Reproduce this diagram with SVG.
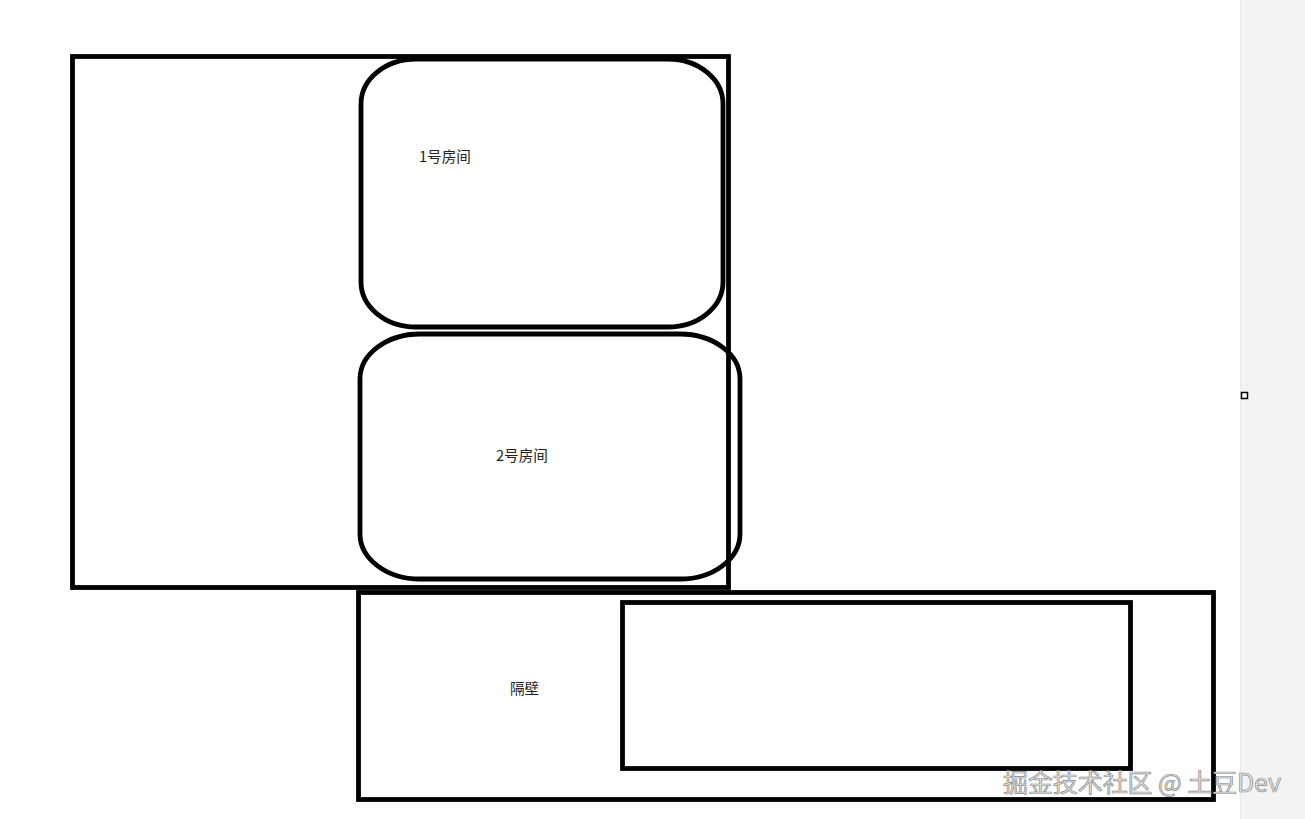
<svg xmlns="http://www.w3.org/2000/svg" width="1305" height="819" viewBox="0 0 1305 819">
<style>
.ln{fill:none;stroke:#000;stroke-width:4.8}
.lbl{font-family:"Noto Sans CJK SC","Noto Sans",sans-serif;font-size:14.6px;fill:#222}
.wm{font-family:"Noto Sans CJK SC","Noto Sans",sans-serif;font-size:25px;fill:#e4e4e4;stroke:#8a8a8a;stroke-width:0.7}
</style>
<rect x="0" y="0" width="1305" height="819" fill="#ffffff"/>
<rect x="1240" y="0" width="65" height="819" fill="#f3f3f3"/>
<line x1="1240.5" y1="0" x2="1240.5" y2="819" stroke="#e8e8e8" stroke-width="1"/>
<rect x="1241.5" y="392.5" width="6" height="6" fill="#fff" stroke="#000" stroke-width="1.5"/>
<g id="outer"><rect class="ln" x="72.5" y="56.5" width="656" height="531"/></g>
<g id="room1"><rect class="ln" x="361" y="59" width="362" height="268" rx="55" ry="45"/><text class="lbl" x="419" y="162">1号房间</text></g>
<g id="room2"><rect class="ln" x="360" y="334" width="380" height="245" rx="60" ry="45"/><text class="lbl" x="496" y="461">2号房间</text></g>
<g id="neighbor"><rect class="ln" x="358.5" y="592.5" width="855" height="207"/><text class="lbl" x="510" y="694">隔壁</text></g>
<g id="inner"><rect class="ln" x="622.5" y="602.5" width="508" height="166"/></g>
<g id="connectors"></g>
<text class="wm" x="1003" y="792" textLength="278">掘金技术社区 @ 土豆Dev</text>
</svg>
